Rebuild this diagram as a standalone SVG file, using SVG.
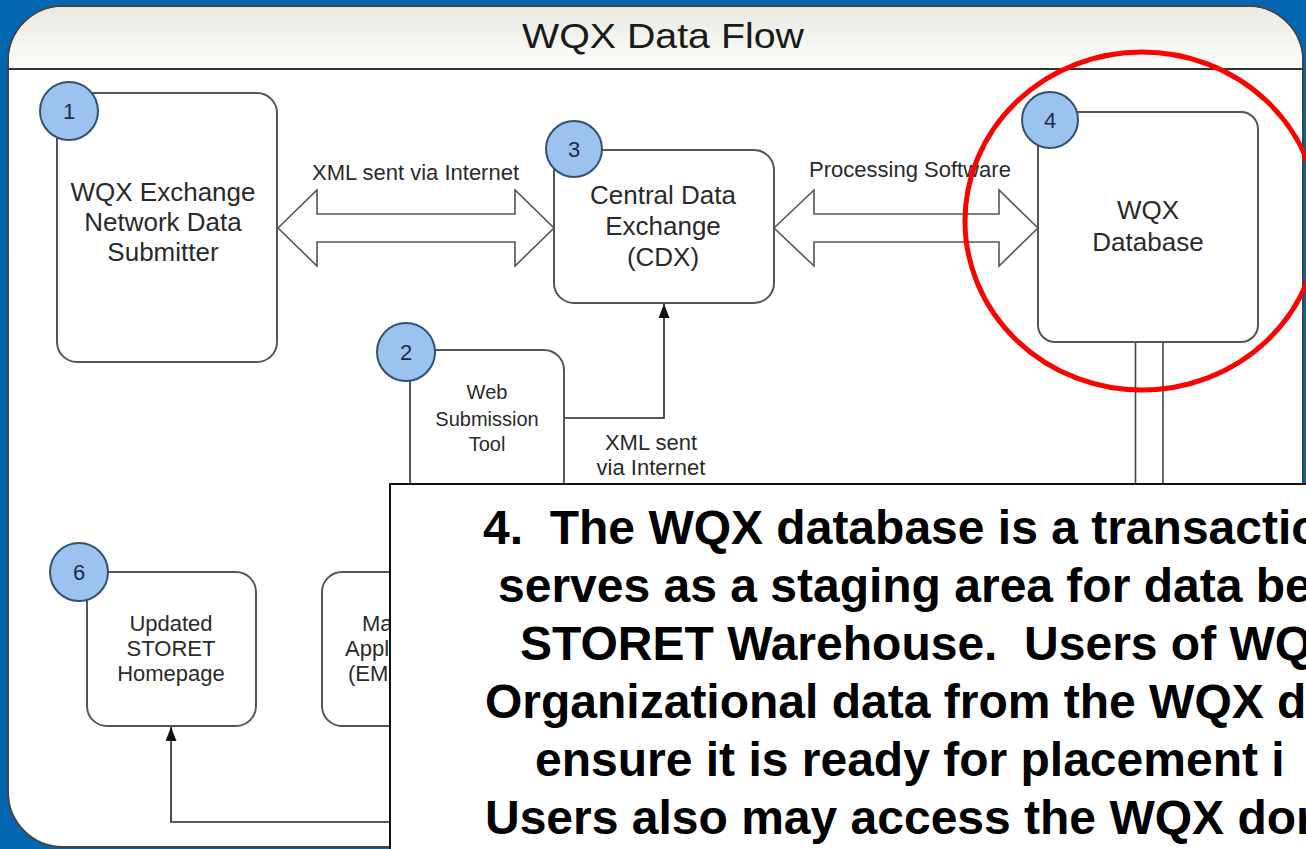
<svg xmlns="http://www.w3.org/2000/svg" width="1306" height="849" viewBox="0 0 1306 849">
<defs>
<linearGradient id="tb" x1="0" y1="0" x2="0" y2="1">
<stop offset="0" stop-color="#e9e9e1"/>
<stop offset="1" stop-color="#fdfdfb"/>
</linearGradient>
<marker id="ah" markerUnits="userSpaceOnUse" markerWidth="14" markerHeight="11" refX="14" refY="5.5" orient="auto">
<path d="M0,0 L14,5.5 L0,11 z" fill="#111"/>
</marker>
<style>
.node{fill:#fff;stroke:#555;stroke-width:2}
.badge{fill:#9cc3ef;stroke:#34506e;stroke-width:2}
.num{font-family:"Liberation Sans",Arial,sans-serif;font-size:22px;fill:#1c2b45;text-anchor:middle}
.t26{font-family:"Liberation Sans",Arial,sans-serif;font-size:26px;fill:#2a2a2a;text-anchor:middle}
.t22{font-family:"Liberation Sans",Arial,sans-serif;font-size:22px;fill:#2a2a2a;text-anchor:middle}
.t20{font-family:"Liberation Sans",Arial,sans-serif;font-size:20px;fill:#2a2a2a;text-anchor:middle}
.lbl{font-family:"Liberation Sans",Arial,sans-serif;font-size:22px;fill:#2a2a2a;text-anchor:middle}
.dbl{fill:#fff;stroke:#555;stroke-width:1.6;stroke-linejoin:miter}
.wire{fill:none;stroke:#222;stroke-width:1.6}
.big{font-family:"Liberation Sans",Arial,sans-serif;font-size:48px;font-weight:bold;fill:#000}
</style>
</defs>
<rect x="0" y="0" width="1306" height="849" fill="#0366b1"/>
<g id="frame">
<rect x="8" y="6" width="1295" height="841" rx="55" ry="55" fill="#fff" stroke="#444" stroke-width="2"/>
<path d="M9,69 V61 A54,54 0 0 1 63,7 H1248 A54,54 0 0 1 1302,61 V69 Z" fill="url(#tb)"/>
<line x1="8" y1="69" x2="1303" y2="69" stroke="#333" stroke-width="2"/>
<text x="663" y="48" font-family="Liberation Sans, Arial, sans-serif" font-size="35" fill="#1a1a1a" text-anchor="middle" textLength="282" lengthAdjust="spacingAndGlyphs">WQX Data Flow</text>
</g>
<g id="connectors">
<polygon class="dbl" points="278,228 317,190 317,214 515,214 515,190 554,228 515,266 515,242 317,242 317,266"/>
<polygon class="dbl" points="774,228 814,190 814,214 999,214 999,190 1038,228 999,266 999,242 814,242 814,266"/>
<rect x="1135.5" y="342" width="27.5" height="160" fill="#fff" stroke="#444" stroke-width="1.6"/>
<path class="wire" d="M564,418 H664 V304" marker-end="url(#ah)"/>
<path class="wire" d="M400,822 H171 V727" marker-end="url(#ah)"/>
<text class="lbl" x="415.5" y="180">XML sent via Internet</text>
<text class="lbl" x="910" y="177">Processing Software</text>
<text class="lbl" x="651" y="450">XML sent</text>
<text class="lbl" x="651" y="475">via Internet</text>
</g>
<g id="node1">
<rect class="node" x="57" y="93" width="220" height="269" rx="20"/>
<circle class="badge" cx="69" cy="111" r="29"/>
<text class="num" x="69" y="119">1</text>
<text class="t26" x="163" y="201">WQX Exchange</text>
<text class="t26" x="163" y="231">Network Data</text>
<text class="t26" x="163" y="261">Submitter</text>
</g>
<g id="node3">
<rect class="node" x="554" y="150" width="220" height="153" rx="20"/>
<circle class="badge" cx="574" cy="149" r="28"/>
<text class="num" x="574" y="157">3</text>
<text class="t26" x="663" y="204">Central Data</text>
<text class="t26" x="663" y="235">Exchange</text>
<text class="t26" x="663" y="266">(CDX)</text>
</g>
<g id="node4">
<rect class="node" x="1038" y="112" width="220" height="230" rx="17"/>
<circle class="badge" cx="1050" cy="120" r="28"/>
<text class="num" x="1050" y="128">4</text>
<text class="t26" x="1148" y="219">WQX</text>
<text class="t26" x="1148" y="251">Database</text>
</g>
<g id="node2">
<rect class="node" x="410" y="350" width="154" height="150" rx="20"/>
<circle class="badge" cx="406" cy="352" r="29"/>
<text class="num" x="406" y="360">2</text>
<text class="t20" x="487" y="399">Web</text>
<text class="t20" x="487" y="426">Submission</text>
<text class="t20" x="487" y="451">Tool</text>
</g>
<g id="node6">
<rect class="node" x="87" y="572" width="169" height="154" rx="20"/>
<circle class="badge" cx="79" cy="572" r="29"/>
<text class="num" x="79" y="580">6</text>
<text class="t22" x="171" y="631">Updated</text>
<text class="t22" x="171" y="656">STORET</text>
<text class="t22" x="171" y="681">Homepage</text>
</g>
<g id="node5">
<rect class="node" x="322" y="572" width="160" height="154" rx="20"/>
<text class="t22" x="362" y="631" text-anchor="start" style="text-anchor:start">Ma</text>
<text class="t22" x="345" y="656" style="text-anchor:start">Appl</text>
<text class="t22" x="348" y="681" style="text-anchor:start">(EM</text>
</g>
<g id="highlight">
<ellipse cx="1142" cy="221" rx="177" ry="169" fill="none" stroke="#f00" stroke-width="5"/>
</g>
<g id="callout">
<rect x="390" y="484" width="1000" height="420" fill="#fff" stroke="#111" stroke-width="2"/>
<text class="big" xml:space="preserve" x="483" y="544">4.  The WQX database is a transactio</text>
<text class="big" xml:space="preserve" x="498" y="602">serves as a staging area for data be</text>
<text class="big" xml:space="preserve" x="520" y="660">STORET Warehouse.  Users of WQ</text>
<text class="big" xml:space="preserve" x="485" y="718">Organizational data from the WQX d</text>
<text class="big" xml:space="preserve" x="535" y="776">ensure it is ready for placement i</text>
<text class="big" xml:space="preserve" x="485" y="834">Users also may access the WQX dor</text>
</g>
</svg>
